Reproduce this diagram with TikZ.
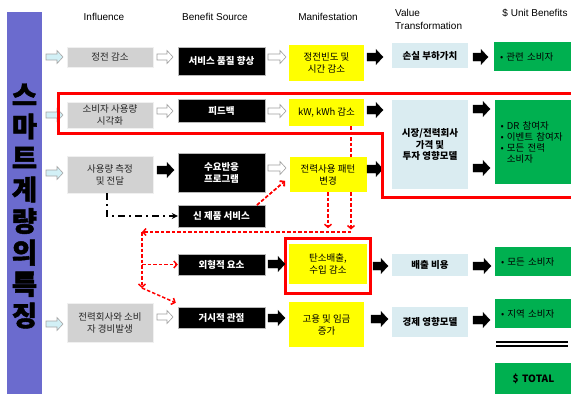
\documentclass[tikz,border=0pt]{standalone}
\usepackage{fontspec}
\setmainfont{Liberation Sans}
\newfontfamily\kr{Noto Sans CJK KR}
\newfontfamily\krtitle[BoldFeatures={FakeBold=1.6}]{Noto Sans CJK KR}
\usetikzlibrary{arrows.meta,calc}
\definecolor{purp}{RGB}{107,107,206}
\definecolor{gboxc}{RGB}{210,210,210}
\definecolor{ylw}{RGB}{255,255,0}
\definecolor{lblue}{RGB}{218,236,241}
\definecolor{grn}{RGB}{0,176,80}
\definecolor{cyanarr}{RGB}{210,240,246}
% block arrow: [style]{x1}{x2}{y}
\newcommand\blkarr[4][]{\draw[#1] (#2,#4-4) -- (#3-7,#4-4) -- (#3-7,#4-7.5) -- (#3,#4) -- (#3-7,#4+7.5) -- (#3-7,#4+4) -- (#2,#4+4) -- cycle;}
\newcommand\thnarr[4][]{\draw[#1] (#2,#4-3) -- (#3-6,#4-3) -- (#3-6,#4-6.5) -- (#3,#4) -- (#3-6,#4+6.5) -- (#3-6,#4+3) -- (#2,#4+3) -- cycle;}
\begin{document}
\begin{tikzpicture}[x=1pt,y=-1pt,
  box/.style={inner sep=1pt, align=center, font=\kr\fontsize{9.5}{12}\selectfont},
  gbox/.style={box, fill=gboxc, draw=gray!12, minimum width=86pt, text=black!85},
  kbox/.style={box, fill=black, draw=gray!55, text=white, font=\kr\bfseries\fontsize{9.5}{12}\selectfont, minimum width=87pt},
  ybox/.style={box, fill=ylw, minimum width=75pt},
  vbox/.style={box, fill=lblue, minimum width=76pt, font=\kr\bfseries\fontsize{9.5}{11.5}\selectfont},
  ubox/.style={box, fill=grn, minimum width=77pt, text width=65pt, inner xsep=6pt, align=left, font=\kr\fontsize{9.5}{11}\selectfont},
  hdr/.style={inner sep=0pt, font=\fontsize{10}{12.5}\selectfont},
  blk/.style={fill=black, draw=black, line width=0.4pt},
  hol/.style={fill=white, draw=gray!75, line width=0.6pt},
  cya/.style={fill=cyanarr, draw=gray!70, line width=0.6pt},
  rdashline/.style={red, line width=1.5pt, dash pattern=on 3.5pt off 2pt},
  rdash/.style={rdashline, -{Straight Barb[length=3pt,width=7pt]}},
  ddot/.style={black, line width=1.4pt, dash pattern=on 7pt off 4pt on 2pt off 4pt, -{Stealth[length=6pt,width=6pt]}},
  redline/.style={red, line width=3pt, line join=miter}
]
\useasboundingbox (0,0) rectangle (571,394);
% left bar
\fill[purp] (7,12) rectangle (42,394);
\node[font=\krtitle\bfseries\fontsize{27.5}{31.5}\selectfont, align=center, inner sep=0pt] (title) at (24.5,206) {스\\마\\트\\계\\량\\의\\특\\징};
% headers
\node[hdr] (h1) at (104,17) {Influence};
\node[hdr] (h2) at (215,17) {Benefit Source};
\node[hdr] (h3) at (328,17) {Manifestation};
\node[hdr, align=left, anchor=west] (h4) at (395,19.5) {Value\\Transformation};
\node[hdr] (h5) at (535,13) {\$ Unit Benefits};
% influence
\node[gbox, minimum height=20pt] (g1) at (110,57) {정전 감소};
\node[gbox, minimum height=26pt] (g2) at (110,115) {소비자 사용량\\시각화};
\node[gbox, minimum height=37pt] (g3) at (110,174.5) {사용량 측정\\및 전달};
\node[gbox, minimum height=39pt] (g4) at (110,322.5) {전력회사와 소비\\자 경비발생};
% benefit source
\node[kbox, minimum height=28pt] (b1) at (221.5,61) {서비스 품질 향상};
\node[kbox, minimum height=23pt] (b2) at (221.5,110.5) {피드백};
\node[kbox, minimum height=39pt] (b3) at (221.5,172.5) {수요반응\\프로그램};
\node[kbox, minimum height=22pt] (b4) at (221.5,216) {신 제품 서비스};
\node[kbox, minimum height=21pt] (b5) at (221.5,264.5) {외형적 요소};
\node[kbox, minimum height=21pt] (b6) at (221.5,317.5) {거시적 관점};
% coordinates for dashed connectors
\coordinate (hl) at (142,232);
\coordinate (hr) at (351,232);
\coordinate (hre) at (351,229.5);
\coordinate (hb) at (142,288);
\coordinate (nsa) at (257,205);
\coordinate (nsb) at (285,181);
% manifestation
\node[ybox, minimum height=36pt] (y1) at (326.5,63) {정전빈도 및\\시간 감소};
\node[ybox, minimum height=27pt] (y2) at (326.5,112.5) {kW, kWh 감소};
\draw[rdash] (y2.south -| hr) -- (hre);
\node[ybox, minimum width=77pt, minimum height=35pt] (y3) at (328,174.5) {전력사용 패턴\\변경};
\node[draw=red, fill=white, line width=3pt, minimum width=85pt, minimum height=55pt, inner sep=0pt] (cr) at (328,266) {};
\node[ybox, minimum width=78pt, minimum height=40pt] (y4) at (328,264) {탄소배출,\\수입 감소};
\node[ybox, minimum height=45pt] (y5) at (326.5,324.5) {고용 및 임금\\증가};
% value transformation
\node[vbox, minimum height=25pt] (v1) at (430,55.5) {손실 부하가치};
\node[vbox, minimum height=89pt] (v2) at (430,144.5) {시장/전력회사\\가격 및\\투자 영향모델};
\node[vbox, minimum height=22pt] (v3) at (430,265) {배출 비용};
\node[vbox, minimum height=30pt] (v4) at (430,322) {경제 영향모델};
% unit benefits
\node[ubox, minimum height=29pt] (u1) at (532.5,56.5) {• 관련 소비자};
\node[ubox, minimum height=84pt] (u2) at (533,142) {• DR 참여자\\• 이벤트 참여자\\• 모든 전력\\\phantom{• }소비자};
\node[ubox, minimum height=29pt] (u3) at (533.5,261.5) {• 모든 소비자};
\node[ubox, minimum height=29pt] (u4) at (533.5,313.5) {• 지역 소비자};
\node[ubox, minimum height=31pt, align=center, font=\kr\bfseries\fontsize{10}{11}\selectfont] (u5) at (533.5,378.5) {\$ TOTAL};
\draw[line width=1.3pt] (496,342) -- (568,342);
\draw[line width=1.3pt] (496,346) -- (568,346);
% block arrows row 1
\thnarr[cya]{46}{63}{57}
\thnarr[hol]{157}{173}{57}
\thnarr[hol]{268}{286}{57}
\blkarr[blk]{367}{383}{57}
\blkarr[blk]{473}{488}{57}
% row 2
\thnarr[cya]{46}{63}{115}
\thnarr[hol]{157}{173}{111}
\thnarr[hol]{268}{286}{111}
\blkarr[blk]{367}{383}{110}
\blkarr[blk]{473}{490}{109}
% row 3
\thnarr[cya]{46}{63}{173}
\blkarr[blk]{157}{174}{170}
\thnarr[hol]{268}{286}{168}
\blkarr[blk]{367}{383}{169}
\blkarr[blk]{473}{490}{168}
% row 4
\blkarr[blk]{268}{285}{264}
\blkarr[blk]{373}{388}{266}
\blkarr[blk]{473}{491}{266}
% row 5
\thnarr[cya]{46}{63}{324}
\thnarr[hol]{157}{173}{317}
\blkarr[blk]{268}{285}{318}
\blkarr[blk]{371}{388}{319}
\blkarr[blk]{473}{490}{320}
% dash-dot connector
\draw[ddot] ($(g3.south)+(-3,0)$) |- (b4.west);
% red dashed connector new services -> usage pattern (stroke, plus filled dashes)
\draw[rdash] (nsa) -- (nsb);
\begin{scope}[shift={(nsa)}, rotate=40.6]
\foreach \s in {0,5.5,...,27.5} {\fill[red] (\s,-0.75) rectangle (\s+3.5,0.75);}
\fill[red] (36.9,0) -- (33,-3.6) -- (32.1,-2.7) -- (35.1,0) -- (32.1,2.7) -- (33,3.6) -- cycle;
\end{scope}
% other red dashed connectors
\draw[rdash] (y3.south) -- ($(y3.south)+(0,36)$);
\draw[rdash] (hr) -- (hl);
\draw[rdash] (hl) -- (hb);
\draw[rdash] (hl |- b5.west) -- (b5.west);
\draw[rdash] (hb) -- ($(b6.north west)+(-2,-4)$);
% red outline
\draw[redline] (571,93) -- (58,93) -- (58,133) -- (382,133) -- (382,197) -- (571,197);
\end{tikzpicture}
\end{document}
